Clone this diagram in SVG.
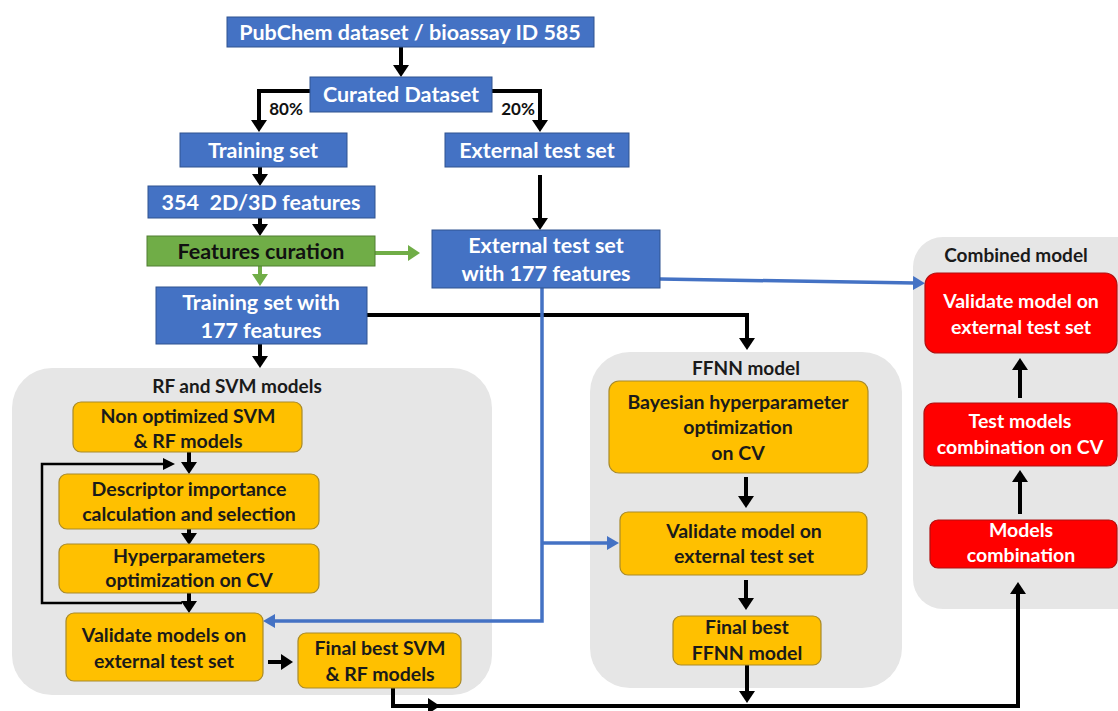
<svg xmlns="http://www.w3.org/2000/svg" width="1118" height="711" viewBox="0 0 1118 711">
<style>
text{font-family:Lato,"Liberation Sans",sans-serif;font-weight:bold;text-anchor:middle}
.blue rect{fill:#4472C4;stroke:#2F528F;stroke-width:1}
.blue text{fill:#fff;font-size:21.5px}
.green rect{fill:#70AD47;stroke:#507E32;stroke-width:1}
.green text{fill:#111;font-size:21.5px}
.orange rect{fill:#FFC000;stroke:#A88A2A;stroke-width:1.2}
.orange text{fill:#1a1a1a;font-size:19.5px}
.red rect{fill:#FF0000;stroke:#B01010;stroke-width:1.2}
.red text{fill:#fff;font-size:19.5px}
.grp{fill:#E6E6E6}
.title{fill:#1a1a1a;font-size:19px}
.pct{fill:#111;font-size:17px}
.k{fill:none;stroke:#000;stroke-width:4;marker-end:url(#ak)}
.kt{fill:none;stroke:#000;stroke-width:2.5;marker-end:url(#akt)}
.b{fill:none;stroke:#4472C4;stroke-width:3.5;marker-end:url(#ab)}
.g{fill:none;stroke:#70AD47;stroke-width:4;marker-end:url(#ag)}
.plain{fill:none;stroke:#000;stroke-width:4}
</style>
<defs>
<marker id="ak" markerUnits="userSpaceOnUse" markerWidth="12" markerHeight="16" refX="2" refY="8" orient="auto"><path d="M0,0 L12,8 L0,16 z" fill="#000"/></marker>
<marker id="akt" markerUnits="userSpaceOnUse" markerWidth="12" markerHeight="12" refX="2" refY="6" orient="auto"><path d="M0,0 L12,6 L0,12 z" fill="#000"/></marker>
<marker id="ab" markerUnits="userSpaceOnUse" markerWidth="12" markerHeight="14" refX="2" refY="7" orient="auto"><path d="M0,0 L12,7 L0,14 z" fill="#4472C4"/></marker>
<marker id="ag" markerUnits="userSpaceOnUse" markerWidth="12" markerHeight="16" refX="2" refY="8" orient="auto"><path d="M0,0 L12,8 L0,16 z" fill="#70AD47"/></marker>
</defs>

<g id="group-rf"><rect class="grp" x="12" y="368" width="480" height="327" rx="40"/><text class="title" x="237" y="393">RF and SVM models</text></g>
<g id="group-ffnn"><rect class="grp" x="590" y="352" width="312" height="336" rx="40"/><text class="title" x="746" y="375">FFNN model</text></g>
<g id="group-combined"><rect class="grp" x="913" y="237" width="240" height="372" rx="30"/><text class="title" x="1016" y="262">Combined model</text></g>

<g id="connectors">
<path class="k" d="M401,47 V67"/>
<path class="k" d="M310,91 H259 V122"/>
<path class="k" d="M492,91 H540 V122"/>
<path class="k" d="M260,167 V176"/>
<path class="k" d="M540,175 V220"/>
<path class="k" d="M260,218 V226"/>
<path class="k" d="M367,315 H747 V340"/>
<path class="k" d="M260,344 V358"/>
<path class="k" d="M189,452 V464"/>
<path class="kt" d="M182,603 H42 V464 H165"/>
<path class="k" d="M189,529 V535"/>
<path class="k" d="M189,593 V603"/>
<path class="k" d="M268,662 H283"/>
<path class="plain" d="M393,688 V706 H1018 V592"/>
<path class="k" d="M1018,706 V592"/>
<path class="k" d="M393,706 H430"/>
<path class="k" d="M746,477 V498"/>
<path class="k" d="M746,580 V600"/>
<path class="k" d="M747,665 V693"/>
<path class="k" d="M1020,514 V480"/>
<path class="k" d="M1020,398 V368"/>
<path class="b" d="M660,279 L915,283"/>
<path class="b" d="M542,288 V621 H273"/>
<path class="b" d="M542,543 H609"/>
<path class="g" d="M375,253 H410"/>
<path class="g" d="M260,266 V276"/>
<text class="pct" x="286" y="115">80%</text>
<text class="pct" x="518" y="115">20%</text>
</g>

<g id="pubchem" class="blue"><rect x="227" y="17" width="367" height="30"/><text x="410" y="40">PubChem dataset / bioassay ID 585</text></g>
<g id="curated" class="blue"><rect x="310" y="77" width="182" height="35"/><text x="401" y="102">Curated Dataset</text></g>
<g id="training" class="blue"><rect x="180" y="133" width="167" height="34"/><text x="263" y="158">Training set</text></g>
<g id="external" class="blue"><rect x="445" y="133" width="184" height="34"/><text x="537" y="158">External test set</text></g>
<g id="features354" class="blue"><rect x="148" y="186" width="227" height="32"/><text x="261" y="210" xml:space="preserve">354  2D/3D features</text></g>
<g id="curation" class="green"><rect x="147" y="236" width="228" height="30"/><text x="261" y="259">Features curation</text></g>
<g id="external177" class="blue"><rect x="432" y="230" width="228" height="58"/><text x="546" y="253">External test set</text><text x="546" y="281">with 177 features</text></g>
<g id="training177" class="blue"><rect x="156" y="287" width="211" height="57"/><text x="261" y="310">Training set with</text><text x="261" y="338">177 features</text></g>

<g id="nonopt" class="orange"><rect x="73" y="402" width="229" height="50" rx="8"/><text x="188" y="423">Non optimized SVM</text><text x="188" y="448">&amp; RF models</text></g>
<g id="descriptor" class="orange"><rect x="59" y="474" width="260" height="55" rx="8"/><text x="189" y="496">Descriptor importance</text><text x="189" y="521">calculation and selection</text></g>
<g id="hyper" class="orange"><rect x="59" y="544" width="260" height="49" rx="8"/><text x="189" y="563">Hyperparameters</text><text x="189" y="587">optimization on CV</text></g>
<g id="validate-rf" class="orange"><rect x="66" y="613" width="197" height="68" rx="8"/><text x="164" y="642">Validate models on</text><text x="164" y="668">external test set</text></g>
<g id="final-rf" class="orange"><rect x="298" y="633" width="163" height="55" rx="8"/><text x="380" y="655">Final best SVM</text><text x="380" y="681">&amp; RF models</text></g>

<g id="bayesian" class="orange"><rect x="609" y="381" width="259" height="92" rx="10"/><text x="738" y="409">Bayesian hyperparameter</text><text x="738" y="434">optimization</text><text x="738" y="460">on CV</text></g>
<g id="validate-ffnn" class="orange"><rect x="620" y="512" width="247" height="63" rx="8"/><text x="744" y="538">Validate model on</text><text x="744" y="563">external test set</text></g>
<g id="final-ffnn" class="orange"><rect x="673" y="616" width="148" height="49" rx="8"/><text x="747" y="634">Final best</text><text x="747" y="660">FFNN model</text></g>

<g id="validate-comb" class="red"><rect x="925" y="273" width="192" height="80" rx="12"/><text x="1021" y="308">Validate model on</text><text x="1021" y="334">external test set</text></g>
<g id="test-comb" class="red"><rect x="924" y="403" width="193" height="63" rx="10"/><text x="1020" y="428">Test models</text><text x="1020" y="454">combination on CV</text></g>
<g id="models-comb" class="red"><rect x="930" y="520" width="187" height="48" rx="8"/><text x="1021" y="537">Models</text><text x="1021" y="562">combination</text></g>
</svg>
